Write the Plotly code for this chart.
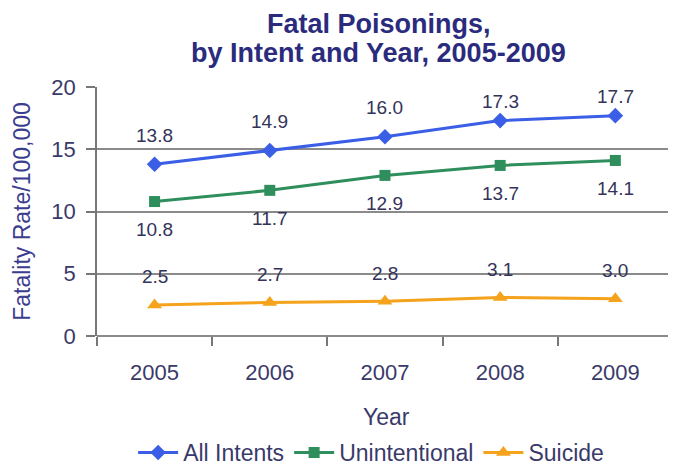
import plotly.graph_objects as go

years = ["2005", "2006", "2007", "2008", "2009"]
all_intents = [13.8, 14.9, 16.0, 17.3, 17.7]
unintentional = [10.8, 11.7, 12.9, 13.7, 14.1]
suicide = [2.5, 2.7, 2.8, 3.1, 3.0]

# label offsets in pixels (style only)
series = [
    ("All Intents", all_intents, "#3a5ee6", "diamond", 12, [29, 29, 29, 19, 19]),
    ("Unintentional", unintentional, "#2e8f5c", "square", 11, [-28] * 5),
    ("Suicide", suicide, "#f5a21c", "triangle-up", 13, [28] * 5),
]

TEXT = "#3a3a6a"
fig = go.Figure()
annotations = []
for name, vals, color, sym, msize, shifts in series:
    fig.add_trace(go.Scatter(
        x=years, y=vals, name=name, mode="lines+markers",
        line=dict(color=color, width=3),
        marker=dict(symbol=sym, size=msize, color=color),
    ))
    for i, (v, s) in enumerate(zip(vals, shifts)):
        annotations.append(dict(
            x=i, y=v, xref="x", yref="y", text=f"{v:.1f}", showarrow=False,
            yshift=s, font=dict(size=19, color="#33335a"),
        ))

# title lines
annotations.append(dict(
    x=0.48, y=1.255, xref="paper", yref="paper", showarrow=False,
    text="<b>Fatal Poisonings,</b>", xanchor="center", yanchor="middle",
    font=dict(size=27, color="#2b2b7e"),
))
annotations.append(dict(
    x=0.48, y=1.135, xref="paper", yref="paper", showarrow=False,
    text="<b>by Intent and Year, 2005-2009</b>", xanchor="center", yanchor="middle",
    font=dict(size=27, color="#2b2b7e"),
))
annotations.append(dict(
    x=0.494, y=-0.325, xref="paper", yref="paper", text="Year", showarrow=False,
    font=dict(size=23, color=TEXT), xanchor="center", yanchor="middle",
))

fig.update_layout(
    width=676, height=466,
    margin=dict(l=89, r=0, t=79, b=138),
    paper_bgcolor="white", plot_bgcolor="white",
    font=dict(family="Liberation Sans, Arial, sans-serif", color=TEXT),
    annotations=annotations,
    showlegend=True,
    legend=dict(
        orientation="h", x=0.467, xanchor="center", y=-0.47, yanchor="middle",
        font=dict(size=23, color=TEXT), itemwidth=40,
        tracegroupgap=0, bgcolor="rgba(0,0,0,0)",
    ),
    xaxis=dict(
        type="category", range=[-0.5, 4.596], automargin=False,
        showgrid=False, showline=False, zeroline=False,
        ticks="outside", tickson="boundaries", ticklen=9, tickcolor="#777",
        tickwidth=1.5, ticklabelstandoff=21,
        tickfont=dict(size=22, color=TEXT),
    ),
    yaxis=dict(
        range=[0, 20], dtick=5, automargin=False,
        showgrid=True, gridcolor="#8a8a8a", gridwidth=1.5,
        showline=True, linecolor="#777", linewidth=1.5,
        zeroline=True, zerolinecolor="#8a8a8a", zerolinewidth=1.5,
        ticks="outside", ticklen=9, tickcolor="#777", tickwidth=1.5,
        ticklabelstandoff=6,
        tickfont=dict(size=22, color=TEXT),
        title=dict(text="Fatality Rate/100,000", font=dict(size=23, color="#3d3d90"), standoff=14),
    ),
)

fig.write_html("out.html")
